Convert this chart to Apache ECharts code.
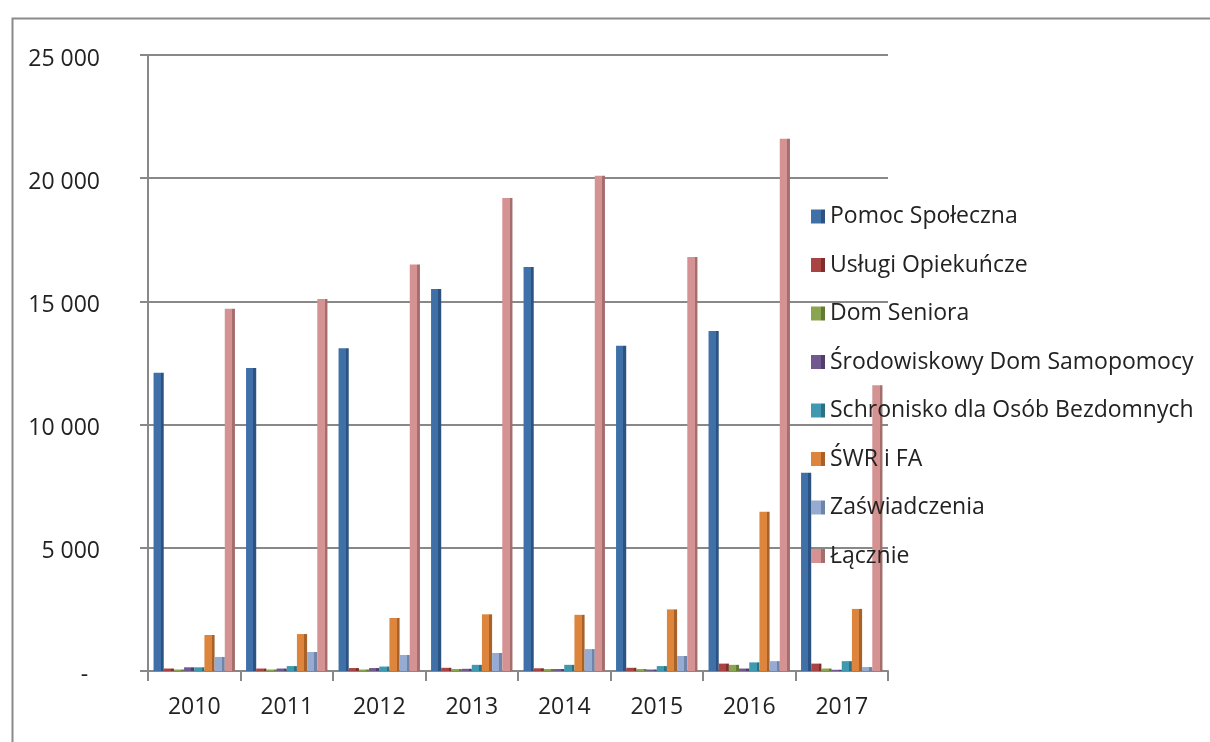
<!DOCTYPE html>
<html><head><meta charset="utf-8">
<script src="https://cdn.jsdelivr.net/npm/echarts@6/dist/echarts.min.js"></script>
<style>html,body{margin:0;padding:0;background:#fff}#c{width:1210px;height:742px}</style>
</head><body><div id="c"></div>
<script>
const years = ['2010','2011','2012','2013','2014','2015','2016','2017'];
const seriesNames = ['Pomoc Społeczna','Usługi Opiekuńcze','Dom Seniora','Środowiskowy Dom Samopomocy','Schronisko dla Osób Bezdomnych','ŚWR i FA','Zaświadczenia','Łącznie'];
const pomoc = [12100, 12300, 13100, 15500, 16400, 13200, 13800, 8050];
const uslugi = [100, 100, 120, 130, 110, 130, 300, 300];
const domSeniora = [60, 60, 60, 80, 80, 80, 250, 100];
const sds = [150, 100, 120, 90, 80, 60, 100, 50];
const schronisko = [150, 200, 180, 250, 250, 200, 350, 400];
const swr = [1460, 1500, 2150, 2300, 2280, 2500, 6460, 2520];
const zasw = [570, 770, 650, 730, 890, 610, 400, 160];
const lacznie = [14700, 15100, 16500, 19200, 20100, 16800, 21600, 11600];
const yTicks = [0, 5000, 10000, 15000, 20000, 25000];

const values = [pomoc, uslugi, domSeniora, sds, schronisko, swr, zasw, lacznie];
const colors = ['#4070A8','#A94442','#8AA54F','#71598F','#3F9AB1','#DD853C','#95ABD2','#D49392'];
const darks  = ['#2C5282','#7E2F2D','#647A35','#513F6A','#2B7186','#A9612A','#6F84A8','#A46E6D'];

function fmt(v){
  const s = v === 0 ? '-  ' : String(v).replace(/\B(?=(\d{3})+(?!\d))/g, ' ');
  return '{a|' + s + '}';
}

const chart = echarts.init(document.getElementById('c'));
chart.setOption({
  backgroundColor: '#fff',
  animation: false,
  graphic: [{
    type: 'rect', left: 10, top: 16, z: 0, silent: true,
    shape: {width: 1230, height: 760},
    style: {fill: 'none', stroke: '#8a8a8a', lineWidth: 2}
  }],
  grid: {left: 148, right: 322, top: 55, bottom: 71, containLabel: false},
  legend: {
    orient: 'vertical', left: 806, top: 200,
    itemWidth: 14, itemHeight: 14, itemGap: 25.5,
    icon: 'rect',
    textStyle: {fontFamily: 'Open Sans', fontSize: 23, color: '#222'},
    data: seriesNames
  },
  xAxis: {
    type: 'category', data: years,
    axisLine: {show: true, lineStyle: {color: '#888', width: 2}},
    axisTick: {show: true, length: 10, lineStyle: {color: '#888', width: 2}},
    axisLabel: {fontFamily: 'Open Sans', fontSize: 23, color: '#222', margin: 25}
  },
  yAxis: {
    type: 'value', min: 0, max: 25000, interval: 5000,
    axisLine: {show: true, lineStyle: {color: '#888', width: 2}},
    axisTick: {show: true, length: 8, lineStyle: {color: '#888', width: 2}},
    splitLine: {lineStyle: {color: '#888', width: 2}},
    axisLabel: {
      fontFamily: 'Open Sans', fontSize: 23, color: '#222', margin: 48, formatter: fmt,
      rich: {a: {fontFamily: 'Open Sans', fontSize: 23, color: '#222', padding: [8, 0, 0, 0]}}
    }
  },
  series: seriesNames.map((n, i) => ({
    name: n, type: 'bar', data: values[i],
    barGap: '0%', barCategoryGap: '12%',
    itemStyle: {
      color: {type: 'linear', x: 0, y: 0, x2: 1, y2: 0, colorStops: [
        {offset: 0, color: colors[i]}, {offset: 0.72, color: colors[i]},
        {offset: 0.72, color: darks[i]}, {offset: 1, color: darks[i]}
      ]}
    }
  }))
});
</script></body></html>
